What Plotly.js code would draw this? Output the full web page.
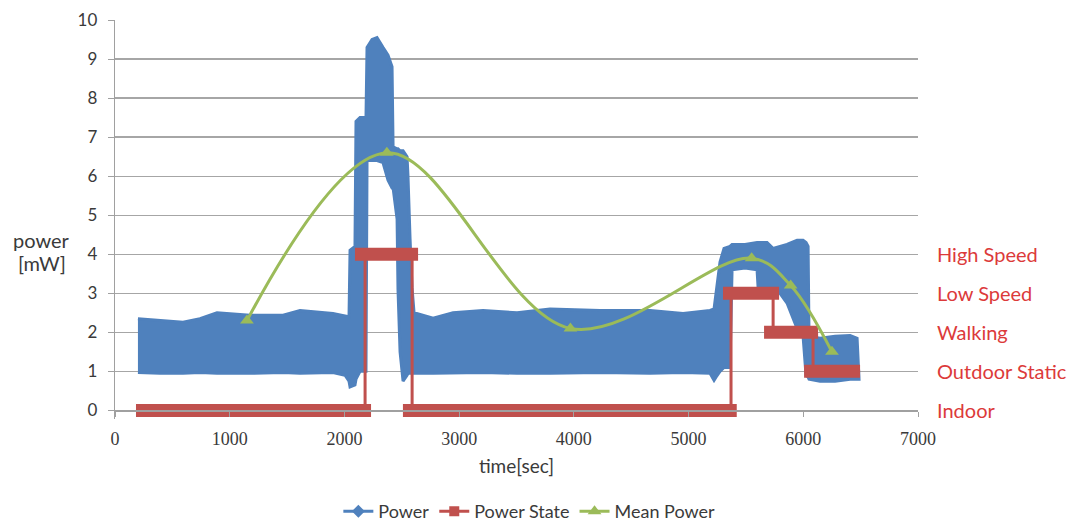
<!DOCTYPE html>
<html>
<head>
<meta charset="utf-8">
<script src="https://cdn.plot.ly/plotly-3.0.1.min.js"></script>
<style>html,body{margin:0;padding:0;background:#fff;}#chart{width:1070px;height:525px;}</style>
</head>
<body>
<div id="chart"></div>
<script>
// Power (dense noisy signal) read as upper/lower envelope of the blue band
const powerTime  = [200,392,593,741,889,1177,1465,1613,1900,2005,2040,2049,2092,2101,2136,2188,2197,2241,2284,2336,2380,2415,2424,2459,2467,2485,2511,2546,2554,2572,2589,2607,2773,2947,3208,3505,3792,4228,4664,4952,5187,5222,5239,5274,5309,5361,5379,5492,5597,5606,5684,5736,5797,5858,5946,5998,6024,6042,6050,6146,6277,6408,6469,6486];
const powerUpper = [2.35,2.3,2.26,2.35,2.5,2.44,2.44,2.56,2.48,2.42,2.4,4.1,4.2,7.4,7.5,7.5,9.3,9.5,9.55,9.3,9.1,8.8,6.75,6.7,6.7,6.65,6.65,6.5,6.0,4.4,3.15,2.5,2.36,2.5,2.56,2.5,2.6,2.56,2.56,2.48,2.56,2.6,3.0,3.8,4.15,4.2,4.25,4.25,4.3,4.3,4.3,4.15,4.2,4.25,4.36,4.36,4.3,4.2,1.9,1.85,1.9,1.92,1.85,0.85];
const powerLower = [0.97,0.95,0.95,0.97,0.95,0.95,0.97,0.95,0.97,0.9,0.75,0.6,0.65,0.8,1.0,1.0,6.4,6.4,6.4,6.35,5.9,5.7,5.7,4.9,3.1,1.5,0.75,0.9,0.95,0.95,0.95,0.95,0.95,0.95,0.97,0.95,0.95,0.97,0.95,0.97,0.95,0.77,0.85,1.0,1.1,1.1,3.6,3.65,3.6,3.15,3.15,3.15,3.0,2.75,2.1,1.9,0.9,0.85,0.8,0.75,0.75,0.8,0.8,0.8];

// Power State segments
const stateLevel  = [0, 4, 0, 3, 2, 1];
const stateStart  = [183, 2092, 2510, 5300, 5658, 6007];
const stateEnd    = [2232, 2642, 5420, 5789, 6129, 6495];
const stateSwitch = [2180, 2590, 5370, 5737, 6085];
const stateNames  = ['Indoor', 'Outdoor Static', 'Walking', 'Low Speed', 'High Speed'];
const stateNameLevel = [0, 1, 2, 3, 4];

// Mean Power
const meanTime  = [1150, 2370, 3970, 5550, 5890, 6250];
const meanValue = [2.3, 6.6, 2.1, 3.9, 3.2, 1.5];

// tick labels
const xTicks = [0, 1000, 2000, 3000, 4000, 5000, 6000, 7000];
const yTicks = [0, 1, 2, 3, 4, 5, 6, 7, 8, 9, 10];

const BLUE = '#4F81BD', RED = '#C0504D', GREEN = '#9BBB59';
const LABEL_RED = '#DC3A3A';
const SANS = 'Lato, sans-serif';
const SERIF = '"Liberation Serif", "DejaVu Serif", serif';
const TXT = '#3A3A3A';

// band polygon
const bandX = powerTime.concat(powerTime.slice().reverse());
const bandY = powerUpper.concat(powerLower.slice().reverse());

// state thin step path
const stepX = [], stepY = [];
for (let i = 0; i < stateLevel.length; i++) {
  if (i === 0) { stepX.push(stateStart[0]); stepY.push(stateLevel[0]); }
  if (i < stateSwitch.length) {
    stepX.push(stateSwitch[i], stateSwitch[i]);
    stepY.push(stateLevel[i], stateLevel[i + 1]);
  } else {
    stepX.push(stateEnd[i]); stepY.push(stateLevel[i]);
  }
}
// state thick bars
const barX = [], barY = [];
stateLevel.forEach((lv, i) => {
  barX.push(stateStart[i], stateEnd[i], null);
  barY.push(lv, lv, null);
});

const traces = [
  {x: bandX, y: bandY, type: 'scatter', mode: 'lines', fill: 'toself',
   fillcolor: BLUE, line: {color: BLUE, width: 3}, showlegend: false, hoverinfo: 'skip'},
  {x: stepX, y: stepY, type: 'scatter', mode: 'lines',
   line: {color: RED, width: 3}, showlegend: false, hoverinfo: 'skip'},
  {x: barX, y: barY, type: 'scatter', mode: 'lines',
   line: {color: RED, width: 13}, showlegend: false, hoverinfo: 'skip'},
  {x: meanTime, y: meanValue, type: 'scatter', mode: 'lines+markers', name: 'Mean Power',
   line: {color: GREEN, width: 3, shape: 'spline', smoothing: 1},
   marker: {symbol: 'triangle-up', size: 12, color: GREEN}, legendrank: 3},
  {x: [null], y: [null], type: 'scatter', mode: 'lines+markers', name: 'Power',
   line: {color: BLUE, width: 3}, marker: {symbol: 'diamond', size: 10, color: BLUE}, legendrank: 1},
  {x: [null], y: [null], type: 'scatter', mode: 'lines+markers', name: 'Power State',
   line: {color: RED, width: 3}, marker: {symbol: 'square', size: 10, color: RED}, legendrank: 2}
];

const annotations = stateNames.map((n, i) => ({
  text: n, xref: 'paper', yref: 'y', x: 1.021, y: stateNameLevel[i],
  xanchor: 'left', yanchor: 'middle', showarrow: false,
  font: {family: SANS, size: 20, color: LABEL_RED}
}));
annotations.push({
  text: 'power', xref: 'paper', yref: 'y', x: -0.091, y: 4.36,
  xanchor: 'center', yanchor: 'middle', showarrow: false,
  font: {family: SANS, size: 20, color: TXT}
});
annotations.push({
  text: '[mW]', xref: 'paper', yref: 'y', x: -0.091, y: 3.77,
  xanchor: 'center', yanchor: 'middle', showarrow: false,
  font: {family: SANS, size: 20, color: TXT}
});

const layout = {
  width: 1070, height: 525,
  margin: {l: 115, r: 152, t: 20, b: 106, autoexpand: false},
  paper_bgcolor: '#fff', plot_bgcolor: '#fff',
  font: {family: SANS, color: TXT},
  showlegend: true,
  legend: {orientation: 'h', x: 0.516, xanchor: 'center', y: -0.232, yanchor: 'middle',
           font: {family: SANS, size: 18, color: TXT}, traceorder: 'normal'},
  xaxis: {range: [0, 7000], tickvals: xTicks, ticktext: xTicks.map(String),
          showgrid: false, zeroline: false, showline: true, linecolor: '#A0A0A0', linewidth: 1.3,
          ticks: 'outside', ticklen: 5, tickcolor: '#A0A0A0', ticklabelstandoff: 7,
          anchor: 'free', position: 0.22 / 10.22, automargin: false,
          tickfont: {family: SERIF, size: 18, color: TXT},
          title: {text: 'time[sec]', font: {family: SANS, size: 19, color: TXT}, standoff: 11}},
  yaxis: {range: [-0.22, 10], tickvals: yTicks, ticktext: yTicks.map(String),
          showgrid: true, gridcolor: '#A6A6A6', gridwidth: 1.3, zeroline: false,
          showline: true, linecolor: '#A0A0A0', linewidth: 1.3, automargin: false,
          ticks: 'outside', ticklen: 6, tickcolor: '#A0A0A0', ticklabelstandoff: 7,
          tickfont: {family: SANS, size: 17, color: TXT}},
  annotations: annotations
};

Plotly.newPlot('chart', traces, layout, {displayModeBar: false, staticPlot: true});
</script>
</body>
</html>
